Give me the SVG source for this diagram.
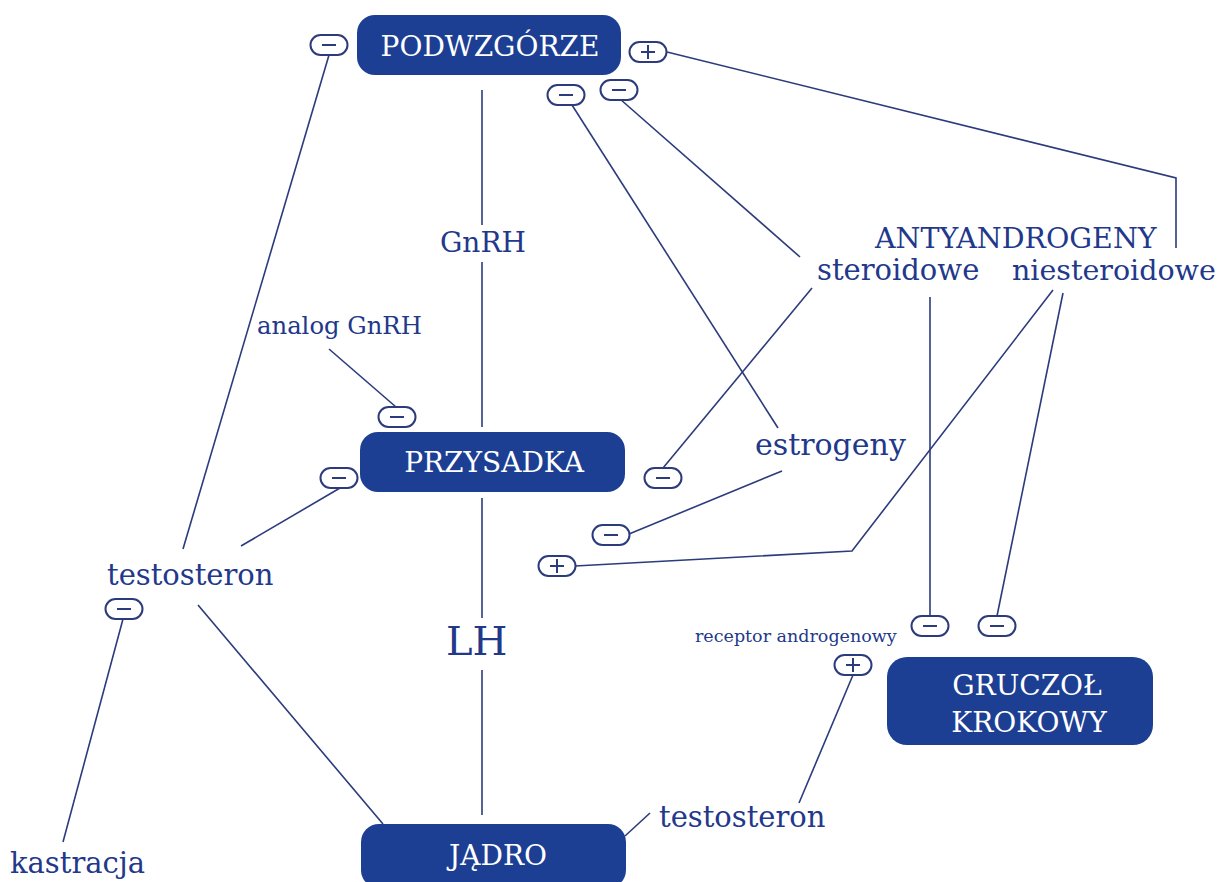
<svg xmlns="http://www.w3.org/2000/svg" width="1225" height="882" viewBox="0 0 1225 882">
<defs>
<style>
.box{fill:#1c3f94}
.bt{fill:#ffffff;font-family:"DejaVu Serif","Liberation Serif",serif;font-size:28px;text-anchor:middle}
.lbl{fill:#22388a;font-family:"DejaVu Serif","Liberation Serif",serif;font-size:29px}
.ln{fill:none;stroke:#2b3b7c;stroke-width:1.6}
.pill{fill:#ffffff;stroke:#2b3b7c;stroke-width:2}
.sg{stroke:#2b3b7c;stroke-width:2;fill:none}
</style>
<g id="minus"><rect class="pill" x="-18.5" y="-10" width="37" height="20" rx="10"/><line class="sg" x1="-7" y1="0" x2="7" y2="0"/></g>
<g id="plus"><rect class="pill" x="-18.5" y="-10" width="37" height="20" rx="10"/><line class="sg" x1="-7" y1="0" x2="7" y2="0"/><line class="sg" x1="0" y1="-7" x2="0" y2="7"/></g>
</defs>
<rect width="1225" height="882" fill="#ffffff"/>
<g id="connectors">
<line class="ln" x1="329" y1="55" x2="183" y2="549"/>
<polyline class="ln" points="667,52 1176,178 1176,248"/>
<line class="ln" x1="482" y1="90" x2="482" y2="225"/>
<line class="ln" x1="482" y1="262" x2="482" y2="427"/>
<line class="ln" x1="482" y1="498" x2="482" y2="618"/>
<line class="ln" x1="482" y1="670" x2="482" y2="815"/>
<line class="ln" x1="572" y1="105" x2="778" y2="428"/>
<line class="ln" x1="620" y1="99" x2="800" y2="257"/>
<line class="ln" x1="812" y1="288" x2="663" y2="468"/>
<line class="ln" x1="329" y1="349" x2="396" y2="407"/>
<line class="ln" x1="340" y1="488" x2="241" y2="546"/>
<line class="ln" x1="198" y1="605" x2="383" y2="824"/>
<line class="ln" x1="123" y1="619" x2="63" y2="842"/>
<line class="ln" x1="625" y1="836" x2="650" y2="813"/>
<line class="ln" x1="799" y1="803" x2="853" y2="675"/>
<line class="ln" x1="930" y1="297" x2="930" y2="616"/>
<line class="ln" x1="1063" y1="293" x2="997" y2="616"/>
<polyline class="ln" points="1053,290 852,551 575,566"/>
<line class="ln" x1="782" y1="471" x2="629" y2="534"/>
</g>
<g id="signs">
<use href="#minus" x="329" y="45"/>
<use href="#plus" x="648" y="52"/>
<use href="#minus" x="566" y="95"/>
<use href="#minus" x="619" y="90"/>
<use href="#minus" x="397" y="417"/>
<use href="#minus" x="339" y="478"/>
<use href="#minus" x="663" y="478"/>
<use href="#minus" x="611" y="535"/>
<use href="#plus" x="557" y="566"/>
<use href="#minus" x="124" y="609"/>
<use href="#minus" x="930" y="626"/>
<use href="#minus" x="997" y="626"/>
<use href="#plus" x="853" y="665"/>
</g>
<g id="podwzgorze"><rect class="box" x="357" y="15" width="264" height="60" rx="18"/><text class="bt" x="490" y="56">PODWZGÓRZE</text></g>
<g id="przysadka"><rect class="box" x="360" y="432" width="265" height="60" rx="18"/><text class="bt" x="494" y="472">PRZYSADKA</text></g>
<g id="jadro"><rect class="box" x="361" y="824" width="265" height="64" rx="18"/><text class="bt" x="498" y="865">JĄDRO</text></g>
<g id="gruczol"><rect class="box" x="887" y="657" width="266" height="88" rx="20"/><text class="bt" x="1027" y="695">GRUCZOŁ</text><text class="bt" x="1029" y="732">KROKOWY</text></g>
<g id="labels">
<text class="lbl" x="440" y="252" style="font-size:28px">GnRH</text>
<text class="lbl" x="257" y="334" style="font-size:24.3px">analog GnRH</text>
<text class="lbl" x="446" y="655" style="font-size:40px">LH</text>
<text class="lbl" x="107" y="585">testosteron</text>
<text class="lbl" x="10" y="873">kastracja</text>
<text class="lbl" x="659" y="827">testosteron</text>
<text class="lbl" x="755" y="455" style="font-size:30px">estrogeny</text>
<text class="lbl" x="875" y="248" style="font-size:28.5px">ANTYANDROGENY</text>
<text class="lbl" x="817" y="280">steroidowe</text>
<text class="lbl" x="1012" y="280" style="font-size:28.5px">niesteroidowe</text>
<text class="lbl" x="695" y="642" style="font-size:17.5px">receptor androgenowy</text>
</g>
</svg>
